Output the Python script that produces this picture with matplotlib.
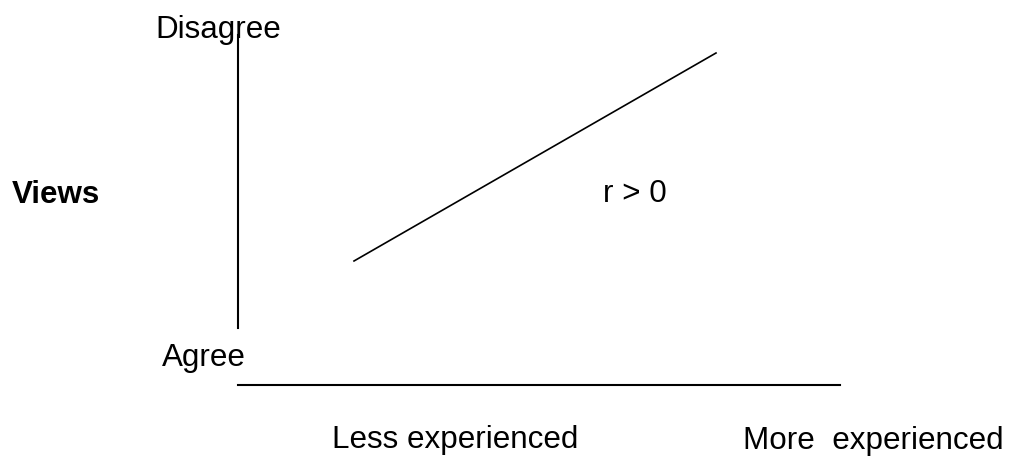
import matplotlib.pyplot as plt

# diagram drawn in a pixel-sized frame (x right, y down)
vert_axis_x = [238, 238]
vert_axis_y = [35, 328]
horiz_axis_x = [238, 840]
horiz_axis_y = [385, 385]
trend_x = [354, 716]
trend_y = [261, 53]

labels = ["Disagree", "Agree", "Views", "r > 0", "Less experienced", "More  experienced"]
label_x = [155, 162, 12, 603, 332, 743]
label_y = [38, 366, 203, 202, 448, 449]   # baselines
label_bold = [False, False, True, False, False, False]

plt.rcParams['font.family'] = ['Liberation Sans', 'DejaVu Sans']

fig = plt.figure(figsize=(10.09, 4.57), dpi=100)
ax = fig.add_axes([0, 0, 1, 1])
ax.set_xlim(0, 1009)
ax.set_ylim(457, 0)
ax.axis("off")

ax.plot(vert_axis_x, vert_axis_y, color="black", lw=1.5, zorder=3)
ax.plot(horiz_axis_x, horiz_axis_y, color="black", lw=1.5)
ax.plot(trend_x, trend_y, color="black", lw=1.2)

for t, x, y, b in zip(labels, label_x, label_y, label_bold):
    ax.text(x, y, t, fontsize=22.6, ha="left", va="baseline",
            fontweight="bold" if b else "normal", zorder=2)

fig.savefig("out.png", dpi=100)
